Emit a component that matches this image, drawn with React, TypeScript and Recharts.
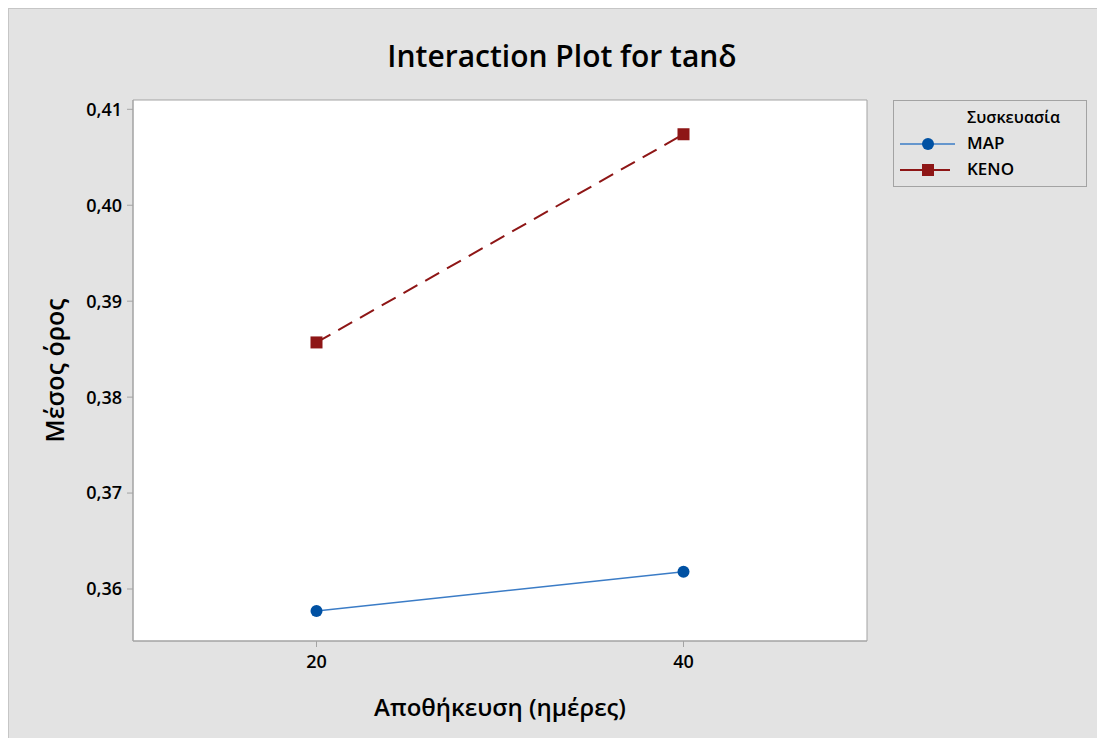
import React from 'react';
import {
  LineChart,
  Line,
  XAxis,
  YAxis,
  Legend,
  ReferenceArea,
} from 'recharts';

// storage days (x) and mean tanδ per packaging
const storageDays = [20, 40];
const mapMeans = [0.3577, 0.3618];
const kenoMeans = [0.3857, 0.4074];
const yTicks = [0.36, 0.37, 0.38, 0.39, 0.4, 0.41];
const xTicks = [20, 40];

const seriesNames = { map: 'MAP', keno: 'KENO' };

const data = storageDays.map((d, i) => ({
  days: d,
  map: mapMeans[i],
  keno: kenoMeans[i],
}));

const FONT = '"Open Sans", "Noto Sans", sans-serif';
const MAP_LINE = '#3b7cc6';
const MAP_MARK = '#0051a3';
const KENO_COLOR = '#8e1616';
const FRAME = '#a3a3a3';

const SquareDot = (props: any) => {
  const { cx, cy, index } = props;
  if (cx == null || cy == null) return null;
  return <rect key={`sq-${index}`} x={cx - 6} y={cy - 6} width={12} height={12} fill={KENO_COLOR} />;
};

const LegendBox = () => (
  <div
    style={{
      width: 192,
      height: 85,
      border: `1px solid ${FRAME}`,
      background: '#e3e3e3',
      fontFamily: FONT,
      position: 'relative',
      color: '#000',
      textAlign: 'left',
    }}
  >
    <div style={{ position: 'absolute', left: 73, top: 5, fontSize: 16, fontWeight: 600 }}>Συσκευασία</div>
    <svg width={60} height={60} style={{ position: 'absolute', left: 6, top: 30 }}>
      <line x1={0} y1={13} x2={55} y2={13} stroke={MAP_LINE} strokeWidth={1.5} />
      <circle cx={28} cy={13} r={6} fill={MAP_MARK} />
      <line x1={0} y1={39} x2={50} y2={39} stroke={KENO_COLOR} strokeWidth={2} />
      <rect x={22} y={33} width={12} height={12} fill={KENO_COLOR} />
    </svg>
    <div style={{ position: 'absolute', left: 73, top: 30, fontSize: 17, fontWeight: 600 }}>{seriesNames.map}</div>
    <div style={{ position: 'absolute', left: 73, top: 56, fontSize: 17, fontWeight: 600 }}>{seriesNames.keno}</div>
  </div>
);

export default function App() {
  return (
    <div
      style={{
        position: 'relative',
        width: 1096,
        height: 729,
        background: '#e3e3e3',
        borderLeft: '1px solid #c6c6c6',
        borderTop: '1px solid #c6c6c6',
        fontFamily: FONT,
      }}
    >
      <div
        style={{
          position: 'absolute',
          left: 0,
          width: 1096,
          top: 26,
          textAlign: 'center',
          fontSize: 30,
          fontWeight: 600,
          color: '#000',
          paddingLeft: 10,
          boxSizing: 'border-box',
        }}
      >
        Interaction Plot for tanδ
      </div>
      <LineChart
        width={1096}
        height={729}
        data={data}
        margin={{ top: 91, right: 238, bottom: 37, left: 0 }}
        style={{ position: 'absolute', left: 0, top: 0 }}
      >
        <ReferenceArea
          x1={10}
          x2={50}
          y1={0.35458}
          y2={0.41097}
          fill="#ffffff"
          fillOpacity={1}
          stroke={FRAME}
          strokeWidth={1}
        />
        <XAxis
          dataKey="days"
          type="number"
          domain={[10, 50]}
          ticks={xTicks}
          height={60}
          tickSize={6}
          tickMargin={8}
          stroke={FRAME}
          tick={{ fill: '#000', fontSize: 18, fontWeight: 600, fontFamily: FONT }}
          label={{
            content: ({ viewBox }: any) => (
              <text
                x={viewBox.x + viewBox.width / 2}
                y={viewBox.y + 75}
                textAnchor="middle"
                fontSize={24}
                fontWeight={600}
                fontFamily={FONT}
                fill="#000"
              >
                Αποθήκευση (ημέρες)
              </text>
            ),
          }}
        />
        <YAxis
          type="number"
          domain={[0.35458, 0.41097]}
          ticks={yTicks}
          width={124}
          tickSize={6}
          tickMargin={5}
          stroke={FRAME}
          tickFormatter={(v: number) => v.toFixed(2).replace('.', ',')}
          tick={{ fill: '#000', fontSize: 18, fontWeight: 600, fontFamily: FONT }}
          label={{
            content: ({ viewBox }: any) => {
              const x = viewBox.x + 55;
              const y = viewBox.y + viewBox.height / 2;
              return (
                <text
                  x={x}
                  y={y}
                  transform={`rotate(-90 ${x} ${y})`}
                  textAnchor="middle"
                  fontSize={25}
                  fontWeight={600}
                  fontFamily={FONT}
                  fill="#000"
                >
                  Μέσος όρος
                </text>
              );
            },
          }}
        />
        <Legend
          layout="horizontal"
          verticalAlign="middle"
          align="center"
          content={() => <LegendBox />}
          wrapperStyle={{ position: 'absolute', left: 884, top: 91, width: 194, height: 87 }}
        />
        <Line
          dataKey="map"
          name={seriesNames.map}
          stroke={MAP_LINE}
          strokeWidth={1.5}
          dot={{ r: 6, fill: MAP_MARK, stroke: MAP_MARK, strokeWidth: 0 }}
          isAnimationActive={false}
        />
        <Line
          dataKey="keno"
          name={seriesNames.keno}
          stroke={KENO_COLOR}
          strokeWidth={2}
          strokeDasharray="16 9"
          dot={<SquareDot />}
          isAnimationActive={false}
        />
      </LineChart>
    </div>
  );
}
